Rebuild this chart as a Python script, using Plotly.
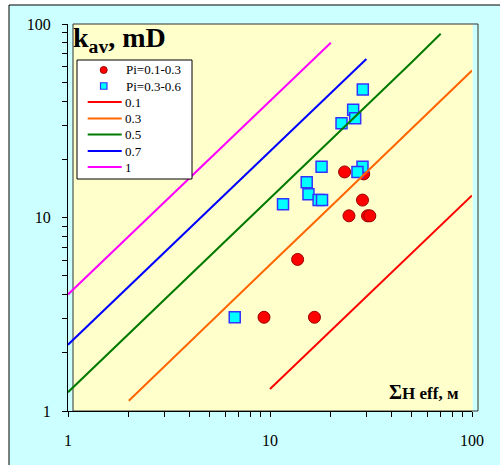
import plotly.graph_objects as go

# ---- data ----
h_low = [23.4, 29.1, 28.7, 24.6, 30.4, 31.2, 13.7, 9.34, 16.6]
k_low = [17.2, 16.8, 12.3, 10.2, 10.2, 10.2, 6.07, 3.05, 3.05]

h_mid = [28.8, 25.8, 26.4, 22.6, 18.0, 28.7, 27.1, 15.2, 15.5, 17.4, 18.1, 11.6, 6.69]
k_mid = [45.8, 36.0, 32.6, 30.7, 18.3, 18.3, 17.2, 15.2, 13.2, 12.3, 12.3, 11.7, 3.05]

marker_names = ["Pi=0.1-0.3", "Pi=0.3-0.6"]
line_names = ["0.1", "0.3", "0.5", "0.7", "1"]
line_h = [
    [10, 20, 50, 100],
    [2, 5, 10, 20, 50, 100],
    [1, 2, 5, 10, 20, 50, 70],
    [1, 2, 5, 10, 20, 30],
    [1, 2, 5, 10, 20],
]
line_k = [
    [1.3, 2.6, 6.5, 13],
    [1.13, 2.85, 5.7, 11.4, 28.5, 57.5],
    [1.25, 2.5, 6.3, 12.5, 25, 63, 89],
    [2.2, 4.4, 11, 22, 44, 66],
    [4.0, 8.0, 20, 40, 80],
]
line_colors = ["#FF0000", "#FF6600", "#007A00", "#0000FF", "#FF00FF"]

FONT = "Liberation Serif"
RED_M = dict(color="#FF0000", line="#990000")
CYAN_M = dict(color="#00FFFF", line="#3333FF")

fig = go.Figure()
fig.add_trace(go.Scatter(x=h_low, y=k_low, mode="markers", name=marker_names[0],
                         marker=dict(symbol="circle", size=12, color=RED_M["color"],
                                     line=dict(color=RED_M["line"], width=1))))
fig.add_trace(go.Scatter(x=h_mid, y=k_mid, mode="markers", name=marker_names[1],
                         marker=dict(symbol="square", size=11, color=CYAN_M["color"],
                                     line=dict(color=CYAN_M["line"], width=1.5))))
for n, xs, ys, c in zip(line_names, line_h, line_k, line_colors):
    fig.add_trace(go.Scatter(x=xs, y=ys, mode="lines", name=n,
                             line=dict(color=c, width=2)))

W, H, L, R, T, B = 500, 465, 68, 28, 24, 54
pw = W - L - R
ph = H - T - B


def px(xp):
    return (xp - L) / pw


def py(yp):
    return (H - B - yp) / ph


shapes = [
    dict(type="rect", xref="paper", yref="paper", layer="below",
         x0=px(9), x1=px(520), y0=py(480), y1=py(5),
         fillcolor="#CCFFFF", line=dict(color="black", width=1)),
    dict(type="rect", xref="paper", yref="paper", layer="below",
         x0=px(73), x1=px(472.7), y0=0, y1=1,
         fillcolor="#FFFFCC", line=dict(width=0)),
    dict(type="rect", xref="paper", yref="paper", layer="below",
         x0=px(73), x1=px(478), y0=0, y1=1,
         fillcolor="rgba(0,0,0,0)", line=dict(color="#333333", width=1)),
]

annotations = [
    dict(text="<b>k<sub>av</sub>, mD</b>", xref="paper", yref="paper",
         x=px(71), y=py(20), xanchor="left", yanchor="top", showarrow=False,
         font=dict(family=FONT, size=28, color="black")),
    dict(text="<b><span style='font-size:20px'>Σ</span>H eff, м</b>", xref="paper", yref="paper",
         x=px(461), y=py(392), xanchor="right", yanchor="middle", showarrow=False,
         font=dict(family=FONT, size=17, color="black")),
]

# ---- legend box (drawn by hand so the row spacing matches) ----
leg_x0, leg_x1, leg_y0, leg_y1 = 77, 192, 60, 179
row_y = [70, 86, 102, 118.5, 134.5, 151, 167]
shapes.append(dict(type="rect", xref="paper", yref="paper", layer="above",
                   x0=px(leg_x0), x1=px(leg_x1), y0=py(leg_y1), y1=py(leg_y0),
                   fillcolor="white", line=dict(color="black", width=1)))
# marker samples
shapes.append(dict(type="circle", xref="paper", yref="paper", layer="above",
                   x0=px(100.2), x1=px(107.2), y0=py(row_y[0] + 3.5), y1=py(row_y[0] - 3.5),
                   fillcolor=RED_M["color"], line=dict(color=RED_M["line"], width=1)))
shapes.append(dict(type="rect", xref="paper", yref="paper", layer="above",
                   x0=px(100.5), x1=px(107), y0=py(row_y[1] + 3.25), y1=py(row_y[1] - 3.25),
                   fillcolor=CYAN_M["color"], line=dict(color=CYAN_M["line"], width=1.2)))
for i, name in enumerate(marker_names):
    annotations.append(dict(text=name, xref="paper", yref="paper",
                            x=px(124), y=py(row_y[i]), xanchor="left", yanchor="middle",
                            showarrow=False, font=dict(family=FONT, size=13, color="black")))
for j, (name, c) in enumerate(zip(line_names, line_colors)):
    yy = row_y[2 + j]
    shapes.append(dict(type="line", xref="paper", yref="paper", layer="above",
                       x0=px(87.7), x1=px(121.7), y0=py(yy), y1=py(yy),
                       line=dict(color=c, width=2)))
    annotations.append(dict(text=name, xref="paper", yref="paper",
                            x=px(123), y=py(yy), xanchor="left", yanchor="middle",
                            showarrow=False, font=dict(family=FONT, size=13, color="black")))

axis_common = dict(type="log", range=[0, 2], showgrid=False, zeroline=False,
                   showline=True, linecolor="black", linewidth=1,
                   ticks="outside", ticklen=5, tickcolor="black", dtick=1,
                   tickfont=dict(family=FONT, size=16, color="black"),
                   minor=dict(ticks="outside", ticklen=5, tickcolor="black", dtick="D1"))

fig.update_layout(
    width=W, height=H,
    margin=dict(l=L, r=R, t=T, b=B, autoexpand=False),
    paper_bgcolor="white", plot_bgcolor="rgba(0,0,0,0)",
    shapes=shapes,
    annotations=annotations,
    xaxis=dict(**axis_common, ticklabelstandoff=10),
    yaxis=dict(**axis_common, ticklabelstandoff=8),
    showlegend=False,
)

fig.write_html("out.html", config={"displayModeBar": False},
               post_script="document.body.style.margin='0';document.body.style.padding='0';")
